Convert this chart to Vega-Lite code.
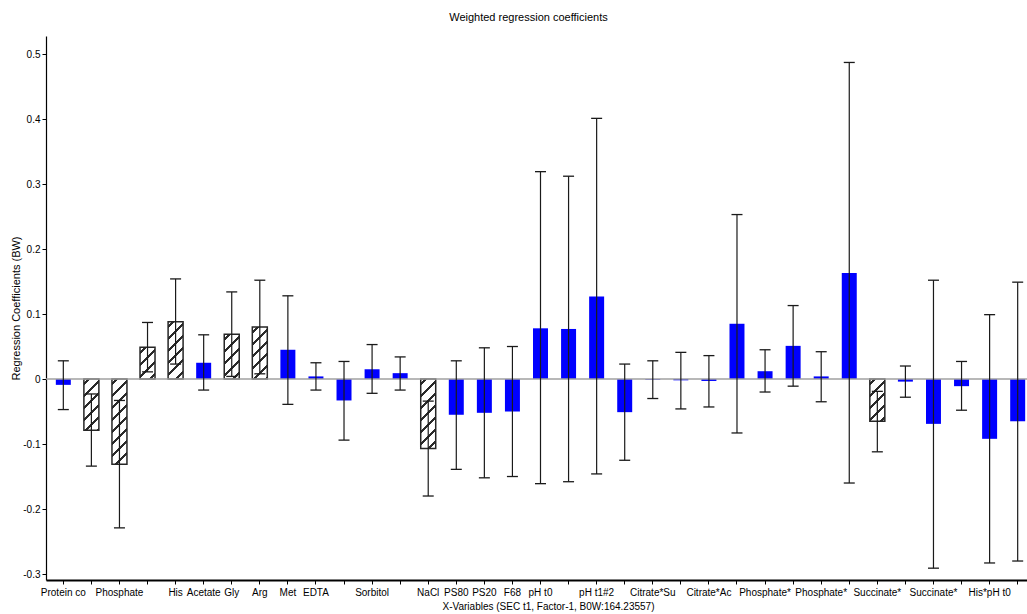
{
  "$schema": "https://vega.github.io/schema/vega-lite/v6.json",
  "autosize": "none",
  "width": 981,
  "height": 544,
  "padding": {"left": 46, "top": 36, "right": 0, "bottom": 34},
  "background": "white",
  "title": {"text": "Weighted regression coefficients", "font": "Liberation Sans", "fontSize": 11, "fontWeight": "normal", "color": "black", "anchor": "middle", "dx": -8, "offset": 13},
  "config": {"view": {"stroke": null}},
  "data": {"values": [
    {"name": "Protein conc", "coef": -0.009, "lo": -0.047, "hi": 0.028},
    {"name": "Citrate", "coef": -0.079, "lo": -0.134, "hi": -0.023},
    {"name": "Phosphate", "coef": -0.131, "lo": -0.229, "hi": -0.033},
    {"name": "Succinate", "coef": 0.049, "lo": 0.011, "hi": 0.087},
    {"name": "His", "coef": 0.088, "lo": 0.023, "hi": 0.154},
    {"name": "Acetate", "coef": 0.025, "lo": -0.017, "hi": 0.068},
    {"name": "Gly", "coef": 0.069, "lo": 0.004, "hi": 0.134},
    {"name": "Arg", "coef": 0.080, "lo": 0.008, "hi": 0.152},
    {"name": "Met", "coef": 0.045, "lo": -0.039, "hi": 0.128},
    {"name": "EDTA", "coef": 0.004, "lo": -0.017, "hi": 0.025},
    {"name": "Sucrose", "coef": -0.033, "lo": -0.094, "hi": 0.027},
    {"name": "Sorbitol", "coef": 0.015, "lo": -0.022, "hi": 0.053},
    {"name": "Trehalose", "coef": 0.009, "lo": -0.017, "hi": 0.034},
    {"name": "NaCl", "coef": -0.107, "lo": -0.180, "hi": -0.034},
    {"name": "PS80", "coef": -0.055, "lo": -0.139, "hi": 0.028},
    {"name": "PS20", "coef": -0.052, "lo": -0.152, "hi": 0.048},
    {"name": "F68", "coef": -0.050, "lo": -0.150, "hi": 0.050},
    {"name": "pH t0", "coef": 0.078, "lo": -0.161, "hi": 0.319},
    {"name": "pH t1", "coef": 0.077, "lo": -0.158, "hi": 0.312},
    {"name": "pH t1#2", "coef": 0.127, "lo": -0.146, "hi": 0.401},
    {"name": "Citrate*Phosphate", "coef": -0.051, "lo": -0.125, "hi": 0.023},
    {"name": "Citrate*Succinate", "coef": -0.001, "lo": -0.030, "hi": 0.028},
    {"name": "Citrate*His", "coef": -0.002, "lo": -0.046, "hi": 0.041},
    {"name": "Citrate*Acetate", "coef": -0.003, "lo": -0.043, "hi": 0.036},
    {"name": "Citrate*pH t0", "coef": 0.085, "lo": -0.083, "hi": 0.253},
    {"name": "Phosphate*Succinate", "coef": 0.012, "lo": -0.020, "hi": 0.045},
    {"name": "Phosphate*His", "coef": 0.051, "lo": -0.011, "hi": 0.113},
    {"name": "Phosphate*Acetate", "coef": 0.004, "lo": -0.035, "hi": 0.042},
    {"name": "Phosphate*pH t0", "coef": 0.163, "lo": -0.160, "hi": 0.487},
    {"name": "Succinate*His", "coef": -0.065, "lo": -0.112, "hi": -0.019},
    {"name": "Succinate*Acetate", "coef": -0.004, "lo": -0.028, "hi": 0.020},
    {"name": "Succinate*pH t0", "coef": -0.069, "lo": -0.291, "hi": 0.152},
    {"name": "His*Acetate", "coef": -0.011, "lo": -0.048, "hi": 0.027},
    {"name": "His*pH t0", "coef": -0.092, "lo": -0.283, "hi": 0.099},
    {"name": "His*pH t1", "coef": -0.065, "lo": -0.280, "hi": 0.149}
  ]},
  "layer": [
    {
      "mark": {"type": "bar", "stroke": "#262626", "strokeJoin": "miter"},
      "encoding": {
        "x": {"field": "name", "type": "nominal", "sort": null, "title": "X-Variables (SEC t1, Factor-1, B0W:164.23557)",
          "scale": {"range": [0, 989], "paddingInner": 0.466, "paddingOuter": 0.35},
          "axis": {"labelAngle": 0, "labelOverlap": false, "labelBound": false, "labelLimit": 0,
            "labelExpr": "indexof(['Citrate','Succinate','Sucrose','Trehalose','pH t1','Citrate*Phosphate','Citrate*His','Citrate*pH t0','Phosphate*His','Phosphate*pH t0','Succinate*Acetate','His*Acetate','His*pH t1'], datum.value) >= 0 ? '' : substring(datum.value, 0, 10)",
            "labelFont": "Liberation Sans", "labelFontSize": 10, "labelColor": "black", "labelPadding": 3,
            "tickColor": "black", "tickSize": 4, "domainColor": "black", "domainWidth": 2,
            "titleFont": "Liberation Sans", "titleFontSize": 10, "titleFontWeight": "normal", "titleColor": "black", "titlePadding": 4, "titleX": 502, "titleAlign": "center"}},
        "y": {"field": "coef", "type": "quantitative", "title": "Regression Coefficients (BW)",
          "scale": {"domain": [-0.3092, 0.5277], "nice": false, "zero": false},
          "axis": {"values": [-0.3, -0.25, -0.2, -0.15, -0.1, -0.05, 0, 0.05, 0.1, 0.15, 0.2, 0.25, 0.3, 0.35, 0.4, 0.45, 0.5],
            "labelExpr": "abs(round(datum.value*20)) % 2 == 1 ? '' : (datum.value < 0 ? '-' + format(-datum.value, '.1~f') : format(datum.value, '.1~f'))",
            "grid": false, "labelFont": "Liberation Sans", "labelFontSize": 10, "labelColor": "black", "labelPadding": 2,
            "tickColor": "black", "tickSize": 4, "domainColor": "black", "domainWidth": 1.2,
            "titleFont": "Liberation Sans", "titleFontSize": 11, "titleFontWeight": "normal", "titleColor": "black", "titlePadding": 1}},
        "y2": {"datum": 0},
        "strokeWidth": {"condition": {"test": "indexof(['Citrate','Phosphate','Succinate','His','Gly','Arg','NaCl','Succinate*His'], datum.name) >= 0", "value": 1.5}, "value": 0},
        "fill": {"condition": [
          {"test": "datum.name === 'Citrate'", "value": {"gradient": "linear", "x1": 0, "y1": 0, "x2": 0.3478, "y2": 1.1906, "stops": [
            {"offset": 0.0603, "color": "#ffffff"}, {"offset": 0.0603, "color": "#2a2a2a"}, {"offset": 0.1055, "color": "#2a2a2a"}, {"offset": 0.1055, "color": "#ffffff"},
            {"offset": 0.2411, "color": "#ffffff"}, {"offset": 0.2411, "color": "#2a2a2a"}, {"offset": 0.2864, "color": "#2a2a2a"}, {"offset": 0.2864, "color": "#ffffff"},
            {"offset": 0.4220, "color": "#ffffff"}, {"offset": 0.4220, "color": "#2a2a2a"}, {"offset": 0.4672, "color": "#2a2a2a"}, {"offset": 0.4672, "color": "#ffffff"},
            {"offset": 0.6029, "color": "#ffffff"}, {"offset": 0.6029, "color": "#2a2a2a"}, {"offset": 0.6481, "color": "#2a2a2a"}, {"offset": 0.6481, "color": "#ffffff"},
            {"offset": 0.7837, "color": "#ffffff"}, {"offset": 0.7837, "color": "#2a2a2a"}, {"offset": 0.8290, "color": "#2a2a2a"}, {"offset": 0.8290, "color": "#ffffff"},
            {"offset": 0.9646, "color": "#ffffff"}, {"offset": 0.9646, "color": "#2a2a2a"}, {"offset": 1.0, "color": "#2a2a2a"}]}},
          {"test": "datum.name === 'Phosphate'", "value": {"gradient": "linear", "x1": 0, "y1": 0, "x2": 0.2010, "y2": 1.1408, "stops": [
            {"offset": 0.0399, "color": "#ffffff"}, {"offset": 0.0399, "color": "#2a2a2a"}, {"offset": 0.0699, "color": "#2a2a2a"}, {"offset": 0.0699, "color": "#ffffff"},
            {"offset": 0.1598, "color": "#ffffff"}, {"offset": 0.1598, "color": "#2a2a2a"}, {"offset": 0.1897, "color": "#2a2a2a"}, {"offset": 0.1897, "color": "#ffffff"},
            {"offset": 0.2796, "color": "#ffffff"}, {"offset": 0.2796, "color": "#2a2a2a"}, {"offset": 0.3096, "color": "#2a2a2a"}, {"offset": 0.3096, "color": "#ffffff"},
            {"offset": 0.3994, "color": "#ffffff"}, {"offset": 0.3994, "color": "#2a2a2a"}, {"offset": 0.4294, "color": "#2a2a2a"}, {"offset": 0.4294, "color": "#ffffff"},
            {"offset": 0.5192, "color": "#ffffff"}, {"offset": 0.5192, "color": "#2a2a2a"}, {"offset": 0.5492, "color": "#2a2a2a"}, {"offset": 0.5492, "color": "#ffffff"},
            {"offset": 0.6390, "color": "#ffffff"}, {"offset": 0.6390, "color": "#2a2a2a"}, {"offset": 0.6690, "color": "#2a2a2a"}, {"offset": 0.6690, "color": "#ffffff"},
            {"offset": 0.7589, "color": "#ffffff"}, {"offset": 0.7589, "color": "#2a2a2a"}, {"offset": 0.7888, "color": "#2a2a2a"}, {"offset": 0.7888, "color": "#ffffff"},
            {"offset": 0.8787, "color": "#ffffff"}, {"offset": 0.8787, "color": "#2a2a2a"}, {"offset": 0.9087, "color": "#2a2a2a"}, {"offset": 0.9087, "color": "#ffffff"}]}},
          {"test": "datum.name === 'Succinate'", "value": {"gradient": "linear", "x1": 0, "y1": 0, "x2": 0.5670, "y2": 1.2039, "stops": [
            {"offset": 0.0854, "color": "#ffffff"}, {"offset": 0.0854, "color": "#2a2a2a"}, {"offset": 0.1494, "color": "#2a2a2a"}, {"offset": 0.1494, "color": "#ffffff"},
            {"offset": 0.3415, "color": "#ffffff"}, {"offset": 0.3415, "color": "#2a2a2a"}, {"offset": 0.4055, "color": "#2a2a2a"}, {"offset": 0.4055, "color": "#ffffff"},
            {"offset": 0.5977, "color": "#ffffff"}, {"offset": 0.5977, "color": "#2a2a2a"}, {"offset": 0.6616, "color": "#2a2a2a"}, {"offset": 0.6616, "color": "#ffffff"},
            {"offset": 0.8538, "color": "#ffffff"}, {"offset": 0.8538, "color": "#2a2a2a"}, {"offset": 0.9178, "color": "#2a2a2a"}, {"offset": 0.9178, "color": "#ffffff"}]}},
          {"test": "datum.name === 'His'", "value": {"gradient": "linear", "x1": 0, "y1": 0, "x2": 0.3097, "y2": 1.1810, "stops": [
            {"offset": 0.0554, "color": "#ffffff"}, {"offset": 0.0554, "color": "#2a2a2a"}, {"offset": 0.0970, "color": "#2a2a2a"}, {"offset": 0.0970, "color": "#ffffff"},
            {"offset": 0.2216, "color": "#ffffff"}, {"offset": 0.2216, "color": "#2a2a2a"}, {"offset": 0.2632, "color": "#2a2a2a"}, {"offset": 0.2632, "color": "#ffffff"},
            {"offset": 0.3878, "color": "#ffffff"}, {"offset": 0.3878, "color": "#2a2a2a"}, {"offset": 0.4294, "color": "#2a2a2a"}, {"offset": 0.4294, "color": "#ffffff"},
            {"offset": 0.5540, "color": "#ffffff"}, {"offset": 0.5540, "color": "#2a2a2a"}, {"offset": 0.5956, "color": "#2a2a2a"}, {"offset": 0.5956, "color": "#ffffff"},
            {"offset": 0.7202, "color": "#ffffff"}, {"offset": 0.7202, "color": "#2a2a2a"}, {"offset": 0.7618, "color": "#2a2a2a"}, {"offset": 0.7618, "color": "#ffffff"},
            {"offset": 0.8864, "color": "#ffffff"}, {"offset": 0.8864, "color": "#2a2a2a"}, {"offset": 0.9280, "color": "#2a2a2a"}, {"offset": 0.9280, "color": "#ffffff"}]}},
          {"test": "datum.name === 'Gly'", "value": {"gradient": "linear", "x1": 0, "y1": 0, "x2": 0.4014, "y2": 1.2002, "stops": [
            {"offset": 0.0668, "color": "#ffffff"}, {"offset": 0.0668, "color": "#2a2a2a"}, {"offset": 0.1170, "color": "#2a2a2a"}, {"offset": 0.1170, "color": "#ffffff"},
            {"offset": 0.2673, "color": "#ffffff"}, {"offset": 0.2673, "color": "#2a2a2a"}, {"offset": 0.3175, "color": "#2a2a2a"}, {"offset": 0.3175, "color": "#ffffff"},
            {"offset": 0.4678, "color": "#ffffff"}, {"offset": 0.4678, "color": "#2a2a2a"}, {"offset": 0.5180, "color": "#2a2a2a"}, {"offset": 0.5180, "color": "#ffffff"},
            {"offset": 0.6683, "color": "#ffffff"}, {"offset": 0.6683, "color": "#2a2a2a"}, {"offset": 0.7185, "color": "#2a2a2a"}, {"offset": 0.7185, "color": "#ffffff"},
            {"offset": 0.8688, "color": "#ffffff"}, {"offset": 0.8688, "color": "#2a2a2a"}, {"offset": 0.9190, "color": "#2a2a2a"}, {"offset": 0.9190, "color": "#ffffff"}]}},
          {"test": "datum.name === 'Arg'", "value": {"gradient": "linear", "x1": 0, "y1": 0, "x2": 0.3431, "y2": 1.1895, "stops": [
            {"offset": 0.0597, "color": "#ffffff"}, {"offset": 0.0597, "color": "#2a2a2a"}, {"offset": 0.1045, "color": "#2a2a2a"}, {"offset": 0.1045, "color": "#ffffff"},
            {"offset": 0.2388, "color": "#ffffff"}, {"offset": 0.2388, "color": "#2a2a2a"}, {"offset": 0.2836, "color": "#2a2a2a"}, {"offset": 0.2836, "color": "#ffffff"},
            {"offset": 0.4179, "color": "#ffffff"}, {"offset": 0.4179, "color": "#2a2a2a"}, {"offset": 0.4627, "color": "#2a2a2a"}, {"offset": 0.4627, "color": "#ffffff"},
            {"offset": 0.5970, "color": "#ffffff"}, {"offset": 0.5970, "color": "#2a2a2a"}, {"offset": 0.6418, "color": "#2a2a2a"}, {"offset": 0.6418, "color": "#ffffff"},
            {"offset": 0.7761, "color": "#ffffff"}, {"offset": 0.7761, "color": "#2a2a2a"}, {"offset": 0.8209, "color": "#2a2a2a"}, {"offset": 0.8209, "color": "#ffffff"},
            {"offset": 0.9552, "color": "#ffffff"}, {"offset": 0.9552, "color": "#2a2a2a"}, {"offset": 1.0, "color": "#2a2a2a"}]}},
          {"test": "datum.name === 'NaCl'", "value": {"gradient": "linear", "x1": 0, "y1": 0, "x2": 0.2505, "y2": 1.1616, "stops": [
            {"offset": 0.0473, "color": "#ffffff"}, {"offset": 0.0473, "color": "#2a2a2a"}, {"offset": 0.0828, "color": "#2a2a2a"}, {"offset": 0.0828, "color": "#ffffff"},
            {"offset": 0.1892, "color": "#ffffff"}, {"offset": 0.1892, "color": "#2a2a2a"}, {"offset": 0.2247, "color": "#2a2a2a"}, {"offset": 0.2247, "color": "#ffffff"},
            {"offset": 0.3312, "color": "#ffffff"}, {"offset": 0.3312, "color": "#2a2a2a"}, {"offset": 0.3666, "color": "#2a2a2a"}, {"offset": 0.3666, "color": "#ffffff"},
            {"offset": 0.4731, "color": "#ffffff"}, {"offset": 0.4731, "color": "#2a2a2a"}, {"offset": 0.5085, "color": "#2a2a2a"}, {"offset": 0.5085, "color": "#ffffff"},
            {"offset": 0.6150, "color": "#ffffff"}, {"offset": 0.6150, "color": "#2a2a2a"}, {"offset": 0.6505, "color": "#2a2a2a"}, {"offset": 0.6505, "color": "#ffffff"},
            {"offset": 0.7569, "color": "#ffffff"}, {"offset": 0.7569, "color": "#2a2a2a"}, {"offset": 0.7924, "color": "#2a2a2a"}, {"offset": 0.7924, "color": "#ffffff"},
            {"offset": 0.8989, "color": "#ffffff"}, {"offset": 0.8989, "color": "#2a2a2a"}, {"offset": 0.9343, "color": "#2a2a2a"}, {"offset": 0.9343, "color": "#ffffff"}]}},
          {"test": "datum.name === 'Succinate*His'", "value": {"gradient": "linear", "x1": 0, "y1": 0, "x2": 0.4272, "y2": 1.2033, "stops": [
            {"offset": 0.0699, "color": "#ffffff"}, {"offset": 0.0699, "color": "#2a2a2a"}, {"offset": 0.1223, "color": "#2a2a2a"}, {"offset": 0.1223, "color": "#ffffff"},
            {"offset": 0.2795, "color": "#ffffff"}, {"offset": 0.2795, "color": "#2a2a2a"}, {"offset": 0.3319, "color": "#2a2a2a"}, {"offset": 0.3319, "color": "#ffffff"},
            {"offset": 0.4891, "color": "#ffffff"}, {"offset": 0.4891, "color": "#2a2a2a"}, {"offset": 0.5415, "color": "#2a2a2a"}, {"offset": 0.5415, "color": "#ffffff"},
            {"offset": 0.6987, "color": "#ffffff"}, {"offset": 0.6987, "color": "#2a2a2a"}, {"offset": 0.7511, "color": "#2a2a2a"}, {"offset": 0.7511, "color": "#ffffff"},
            {"offset": 0.9083, "color": "#ffffff"}, {"offset": 0.9083, "color": "#2a2a2a"}, {"offset": 0.9607, "color": "#2a2a2a"}, {"offset": 0.9607, "color": "#ffffff"}]}}
        ], "value": "#0000ff"}
      }
    },
    {
      "data": {"values": [{"baseline": 0}]},
      "mark": {"type": "rule", "color": "#a0a0a0", "strokeWidth": 1.5},
      "encoding": {"y": {"field": "baseline", "type": "quantitative", "title": "Regression Coefficients (BW)", "scale": {"domain": [-0.3092, 0.5277], "nice": false, "zero": false}}}
    },
    {
      "mark": {"type": "rule", "color": "#1a1a1a", "strokeWidth": 1.2},
      "encoding": {
        "x": {"field": "name", "type": "nominal", "sort": null, "title": "X-Variables (SEC t1, Factor-1, B0W:164.23557)"},
        "y": {"field": "lo", "type": "quantitative", "title": "Regression Coefficients (BW)", "scale": {"domain": [-0.3092, 0.5277], "nice": false, "zero": false}},
        "y2": {"field": "hi"}
      }
    },
    {
      "mark": {"type": "tick", "orient": "horizontal", "size": 11, "thickness": 1.3, "color": "#1a1a1a", "opacity": 1},
      "encoding": {
        "x": {"field": "name", "type": "nominal", "sort": null, "title": "X-Variables (SEC t1, Factor-1, B0W:164.23557)"},
        "y": {"field": "lo", "type": "quantitative", "title": "Regression Coefficients (BW)", "scale": {"domain": [-0.3092, 0.5277], "nice": false, "zero": false}}
      }
    },
    {
      "mark": {"type": "tick", "orient": "horizontal", "size": 11, "thickness": 1.3, "color": "#1a1a1a", "opacity": 1},
      "encoding": {
        "x": {"field": "name", "type": "nominal", "sort": null, "title": "X-Variables (SEC t1, Factor-1, B0W:164.23557)"},
        "y": {"field": "hi", "type": "quantitative", "title": "Regression Coefficients (BW)", "scale": {"domain": [-0.3092, 0.5277], "nice": false, "zero": false}}
      }
    }
  ]
}
